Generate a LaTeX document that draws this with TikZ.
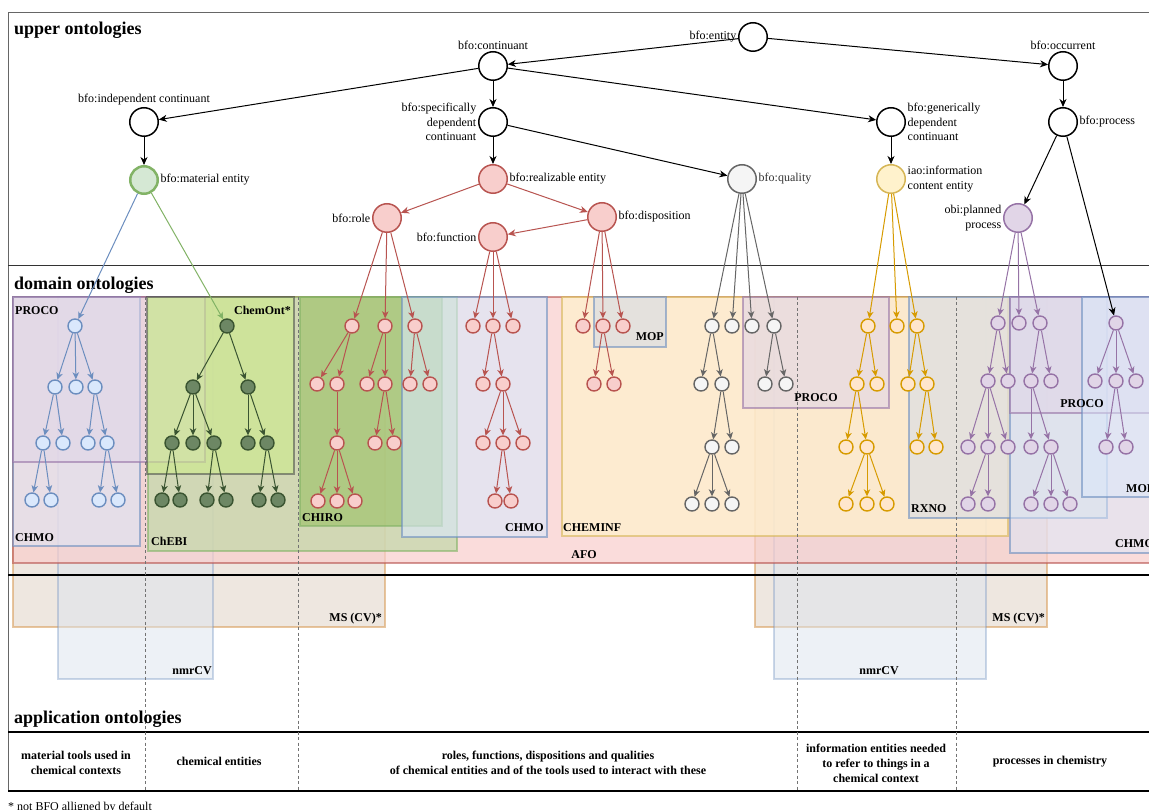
\documentclass[tikz,border=0pt]{standalone}
\usepackage{fontspec}
\setmainfont{Liberation Serif}
\usetikzlibrary{arrows.meta}

% drawio-like palette
\definecolor{redL}{HTML}{F8CECC}\definecolor{redD}{HTML}{B85450}
\definecolor{blueL}{HTML}{DAE8FC}\definecolor{blueD}{HTML}{6C8EBF}
\definecolor{greenL}{HTML}{D5E8D4}\definecolor{greenD}{HTML}{82B366}
\definecolor{oliveL}{HTML}{6D8764}\definecolor{oliveD}{HTML}{3A5431}
\definecolor{grayL}{HTML}{F5F5F5}\definecolor{grayD}{HTML}{666666}
\definecolor{yellowL}{HTML}{FFF2CC}\definecolor{yellowD}{HTML}{D6B656}
\definecolor{orangeL}{HTML}{FFE6CC}\definecolor{orangeD}{HTML}{D79B00}
\definecolor{purpleL}{HTML}{E1D5E7}\definecolor{purpleD}{HTML}{9673A6}
\definecolor{msF}{HTML}{DFD1C3}\definecolor{msD}{HTML}{D9A060}
\definecolor{nmrF}{HTML}{DDE5EE}
\definecolor{chebiF}{HTML}{C2D9A8}
\definecolor{limeF}{HTML}{CDEB8B}\definecolor{limeD}{HTML}{36393D}
\definecolor{chiroF}{HTML}{8EBC54}
\definecolor{mopF}{HTML}{E0E0E0}

\tikzset{
  upper/.style={circle, draw=black, fill=white, line width=1.5pt, minimum size=28.5pt, inner sep=0pt},
  leaf/.style={circle, line width=1.4pt, minimum size=14pt, inner sep=0pt},
  nlabel/.style={font=\fontsize{12}{14.5}\selectfont, inner sep=1.5pt},
  heading/.style={font=\bfseries\fontsize{18}{20}\selectfont, inner sep=0pt},
  onto/.style={line width=1.5pt, fill opacity=0.5, draw opacity=0.6},
  ontolbl/.style={font=\bfseries\fontsize{12}{14}\selectfont, inner sep=0pt},
  usecase/.style={font=\bfseries\fontsize{12}{15}\selectfont, align=center, inner sep=0pt},
  isa/.style={-{Stealth[length=8pt,width=7pt,inset=2.5pt]}, line width=1pt},
  sub/.style={-{Stealth[length=7pt,width=6.5pt,inset=2pt]}, line width=1pt},
  column/.style={draw=black!55, line width=0.6pt, dash pattern=on 3pt off 2.5pt},
  bluenode/.style={leaf, draw=blueD, fill=blueL},
  olivenode/.style={leaf, draw=oliveD, fill=oliveL},
  rednode/.style={leaf, draw=redD, fill=redL},
  graynode/.style={leaf, draw=grayD, fill=grayL},
  orangenode/.style={leaf, draw=orangeD, fill=orangeL},
  purplenode/.style={leaf, draw=purpleD, fill=purpleL},
}

\begin{document}
\begin{tikzpicture}[x=1pt, y=-1pt]
  \clip (0,0) rectangle (1149,810);
  \fill[white] (0,0) rectangle (1149,810);

  % ontology boxes (back to front)
  \draw[onto, draw=msD, fill=msF] (13,297) rectangle (385,627);
  \draw[onto, draw=msD, fill=msF] (755,297) rectangle (1047,627);
  \draw[onto, draw=blueD, draw opacity=0.35, fill=nmrF] (58,297) rectangle (213,679);
  \draw[onto, draw=blueD, draw opacity=0.35, fill=nmrF] (774,297) rectangle (986,679);
  \draw[onto, draw=redD, fill=redL, fill opacity=0.7] (13,297) rectangle (1153,563);
  \draw[onto, draw=yellowD, fill=yellowL, fill opacity=0.7] (562,297) rectangle (1008,536);
  \draw[onto, draw=greenD, fill=chebiF, fill opacity=0.7] (148,297) rectangle (457,551);
  \draw[onto, draw=blueD, fill=blueL] (13,297) rectangle (140,546);
  \draw[onto, draw=purpleD, fill=purpleL] (13,297) rectangle (205,462);
  \draw[onto, draw=limeD, draw opacity=0.5, fill=limeF, fill opacity=0.6] (147,297) rectangle (294,474);
  \draw[onto, draw=greenD, fill=chiroF] (300,297) rectangle (442,526);
  \draw[onto, draw=blueD, fill=blueL, fill opacity=0.6] (402,297) rectangle (547,537);
  \draw[onto, draw=blueD, fill=mopF, fill opacity=0.85] (594,297) rectangle (666,347);
  \draw[onto, draw=purpleD, fill=purpleL, fill opacity=0.6] (743,297) rectangle (889,408);
  \draw[onto, draw=blueD, fill=mopF, fill opacity=0.8] (909,297) rectangle (1107,518);
  \draw[onto, draw=blueD, fill=blueL, fill opacity=0.5] (1010,297) rectangle (1156,553);
  \draw[onto, draw=purpleD, fill=purpleL, fill opacity=0.6] (1010,297) rectangle (1156,413);
  \draw[onto, draw=blueD, fill=blueL, fill opacity=0.5] (1082,297) rectangle (1156,497);

  % frame and sections
  \draw[black!60, line width=1pt] (1160,13) -- (8,13) -- (8,791);
  \draw[black!80, line width=1pt] (8,266) -- (1160,266);
  \draw[black, line width=1.3pt] (8,575) -- (1160,575);
  \draw[black, line width=2pt] (8,732) -- (1160,732);
  \draw[black, line width=1.3pt] (8,791) -- (1160,791);
  \foreach \x in {145,298,797,956}
    \draw[column] (\x,297) -- (\x,791);

  % headings
  \node[heading, anchor=base west] (hupper) at (14,35) {upper ontologies};
  \node[heading, anchor=base west] (hdomain) at (14,290) {domain ontologies};
  \node[heading, anchor=base west] (happl) at (14,723) {application ontologies};

  % ontology names
  \node[ontolbl, anchor=base west] (lproco1) at (15,315) {PROCO};
  \node[ontolbl, anchor=base east] (lchemont) at (291,315) {ChemOnt*};
  \node[ontolbl, anchor=base west] (lchmo1) at (15,541) {CHMO};
  \node[ontolbl, anchor=base west] (lchebi) at (151,545) {ChEBI};
  \node[ontolbl, anchor=base west] (lchiro) at (302,521) {CHIRO};
  \node[ontolbl, anchor=base east] (lchmo2) at (544,531) {CHMO};
  \node[ontolbl, anchor=base] (lafo) at (584,558) {AFO};
  \node[ontolbl, anchor=base east] (lmop1) at (664,341) {MOP};
  \node[ontolbl, anchor=base west] (lcheminf) at (563,531) {CHEMINF};
  \node[ontolbl, anchor=base] (lproco2) at (816,402) {PROCO};
  \node[ontolbl, anchor=base west] (lrxno) at (911,512) {RXNO};
  \node[ontolbl, anchor=base] (lproco3) at (1082,407) {PROCO};
  \node[ontolbl, anchor=base west] (lchmo3) at (1115,547) {CHMO};
  \node[ontolbl, anchor=base west] (lmop2) at (1126,492) {MOP};
  \node[ontolbl, anchor=base east] (lms1) at (382,621) {MS (CV)*};
  \node[ontolbl, anchor=base east] (lnmr1) at (212,674) {nmrCV};
  \node[ontolbl, anchor=base east] (lms2) at (1045,621) {MS (CV)*};
  \node[ontolbl, anchor=base] (lnmr2) at (879,674) {nmrCV};

  % application use cases
  \node[usecase] (uc1) at (76,763) {material tools used in\\chemical contexts};
  \node[usecase] (uc2) at (219,761) {chemical entities};
  \node[usecase] (uc3) at (548,763) {roles, functions, dispositions and qualities\\of chemical entities and of the tools used to interact with these};
  \node[usecase] (uc4) at (876,763) {information entities needed\\to refer to things in a\\chemical context};
  \node[usecase] (uc5) at (1050,762) {processes in chemistry};
  \node[nlabel, anchor=base west, inner sep=0pt] (foot) at (8,810) {* not BFO alligned by default};

  % upper ontology (BFO)
  \node[upper, label={[nlabel]left:{bfo:entity}}] (entity) at (753,37) {};
  \node[upper, label={[nlabel]above:{bfo:continuant}}] (continuant) at (493,66) {};
  \node[upper, label={[nlabel]above:{bfo:occurrent}}] (occurrent) at (1063,66) {};
  \node[upper, label={[nlabel]above:{bfo:independent continuant}}] (indep) at (144,122) {};
  \node[upper, label={[nlabel, align=right]left:{bfo:specifically\\dependent\\continuant}}] (specdep) at (493,122) {};
  \node[upper, label={[nlabel, align=left]right:{bfo:generically\\dependent\\continuant}}] (gendep) at (891,122) {};
  \node[upper, label={[nlabel]right:{bfo:process}}] (process) at (1063,122) {};
  \node[upper, draw=greenD, fill=greenL, line width=2.5pt, minimum size=27.5pt, label={[nlabel]right:{bfo:material entity}}] (matent) at (144,180) {};
  \node[upper, draw=redD, fill=redL, label={[nlabel]right:{bfo:realizable entity}}] (realiz) at (493,179) {};
  \node[upper, draw=grayD, fill=grayL, label={[nlabel, text=black!80]right:{bfo:quality}}] (quality) at (742,179) {};
  \node[upper, draw=yellowD, fill=yellowL, label={[nlabel, align=left]right:{iao:information\\content entity}}] (ice) at (891,179) {};
  \node[upper, draw=redD, fill=redL, label={[nlabel]left:{bfo:role}}] (role) at (387,218) {};
  \node[upper, draw=redD, fill=redL, label={[nlabel]right:{bfo:disposition}}] (dispo) at (602,217) {};
  \node[upper, draw=redD, fill=redL, label={[nlabel]left:{bfo:function}}] (func) at (493,237) {};
  \node[upper, draw=purpleD, fill=purpleL, label={[nlabel, align=right]left:{obi:planned\\process}}] (planproc) at (1018,218) {};

  % domain trees: nodes
  \foreach \n/\x/\y in {b0/75/326, b1/55/387, b2/76/387, b3/95/387, b4/43/443, b5/63/443, b6/88/443, b7/107/443,
      b8/32/500, b9/51/500, b10/99/500, b11/118/500}
    \node[bluenode] (\n) at (\x,\y) {};
  \foreach \n/\x/\y in {g0/227/326, g1/193/387, g2/248/387, g3/172/443, g4/193/443, g5/214/443, g6/248/443, g7/267/443,
      g8/162/500, g9/180/500, g10/207/500, g11/226/500, g12/259/500, g13/278/500}
    \node[olivenode] (\n) at (\x,\y) {};
  \foreach \n/\x/\y in {r0/352/326, r1/385/326, r2/415/326, r3/317/384, r4/337/384, r5/367/384, r6/385/384, r7/410/384,
      r8/430/384, r9/337/443, r10/375/443, r11/394/443, r12/318/501, r13/337/501, r14/355/501,
      f0/473/326, f1/493/326, f2/513/326, f3/483/384, f4/503/384, f5/483/443, f6/503/443, f7/523/443, f8/495/501, f9/511/501,
      d0/583/326, d1/603/326, d2/623/326, d3/594/384, d4/614/384}
    \node[rednode] (\n) at (\x,\y) {};
  \foreach \n/\x/\y in {q0/712/326, q1/732/326, q2/752/326, q3/774/326, q4/701/384, q5/722/384, q6/765/384, q7/786/384,
      q8/712/447, q9/732/447, q10/692/504, q11/712/504, q12/732/504}
    \node[graynode] (\n) at (\x,\y) {};
  \foreach \n/\x/\y in {y0/868/326, y1/897/326, y2/917/326, y3/857/384, y4/877/384, y5/908/384, y6/927/384,
      y7/846/447, y8/867/447, y9/917/447, y10/936/447, y11/846/504, y12/867/504, y13/887/504}
    \node[orangenode] (\n) at (\x,\y) {};
  \foreach \n/\x/\y in {p0/998/323, p1/1019/323, p2/1040/323, p3/988/381, p4/1008/381, p5/1031/381, p6/1051/381,
      p7/968/447, p8/988/447, p9/1008/447, p10/1031/447, p11/1051/447,
      p12/968/504, p13/988/504, p14/1031/504, p15/1051/504, p16/1070/504,
      s0/1116/323, s1/1095/381, s2/1116/381, s3/1136/381, s4/1106/447, s5/1126/447}
    \node[purplenode] (\n) at (\x,\y) {};

  % upper ontology: is-a links
  \draw[isa] (entity) -- (continuant);
  \draw[isa] (entity) -- (occurrent);
  \draw[isa] (continuant) -- (indep);
  \draw[isa] (continuant) -- (specdep);
  \draw[isa] (continuant) -- (gendep);
  \draw[isa] (indep) -- (matent);
  \draw[isa] (specdep) -- (realiz);
  \draw[isa] (specdep) -- (quality);
  \draw[isa] (gendep) -- (ice);
  \draw[isa] (occurrent) -- (process);
  \draw[isa] (process) -- (planproc);
  \draw[isa] (process) -- (s0);
  \draw[isa, draw=redD] (realiz) -- (role);
  \draw[isa, draw=redD] (realiz) -- (dispo);
  \draw[isa, draw=redD] (dispo) -- (func);
  \draw[sub, draw=blueD] (matent) -- (b0);
  \draw[sub, draw=greenD] (matent) -- (g0);

  % domain trees: links
  \foreach \a/\b in {b0/b1, b0/b2, b0/b3, b1/b4, b1/b5, b3/b6, b3/b7, b4/b8, b4/b9, b7/b10, b7/b11}
    \draw[sub, draw=blueD] (\a) -- (\b);
  \foreach \a/\b in {g0/g1, g0/g2, g1/g3, g1/g4, g1/g5, g2/g6, g2/g7, g3/g8, g3/g9, g5/g10, g5/g11, g7/g12, g7/g13}
    \draw[sub, draw=oliveD] (\a) -- (\b);
  \foreach \a/\b in {role/r0, role/r1, role/r2, r0/r3, r0/r4, r1/r5, r1/r6, r2/r7, r2/r8, r4/r9, r6/r10, r6/r11,
      r9/r12, r9/r13, r9/r14, func/f0, func/f1, func/f2, f1/f3, f1/f4, f4/f5, f4/f6, f4/f7, f6/f8, f6/f9,
      dispo/d0, dispo/d1, dispo/d2, d1/d3, d1/d4}
    \draw[sub, draw=redD] (\a) -- (\b);
  \foreach \a/\b in {quality/q0, quality/q1, quality/q2, quality/q3, q0/q4, q0/q5, q3/q6, q3/q7, q5/q8, q5/q9,
      q8/q10, q8/q11, q8/q12}
    \draw[sub, draw=grayD] (\a) -- (\b);
  \foreach \a/\b in {ice/y0, ice/y1, ice/y2, y0/y3, y0/y4, y2/y5, y2/y6, y3/y7, y3/y8, y6/y9, y6/y10,
      y8/y11, y8/y12, y8/y13}
    \draw[sub, draw=orangeD] (\a) -- (\b);
  \foreach \a/\b in {planproc/p0, planproc/p1, planproc/p2, p0/p3, p0/p4, p2/p5, p2/p6, p3/p7, p3/p8, p3/p9,
      p5/p10, p5/p11, p8/p12, p8/p13, p11/p14, p11/p15, p11/p16, s0/s1, s0/s2, s0/s3, s2/s4, s2/s5}
    \draw[sub, draw=purpleD] (\a) -- (\b);
\end{tikzpicture}
\end{document}
